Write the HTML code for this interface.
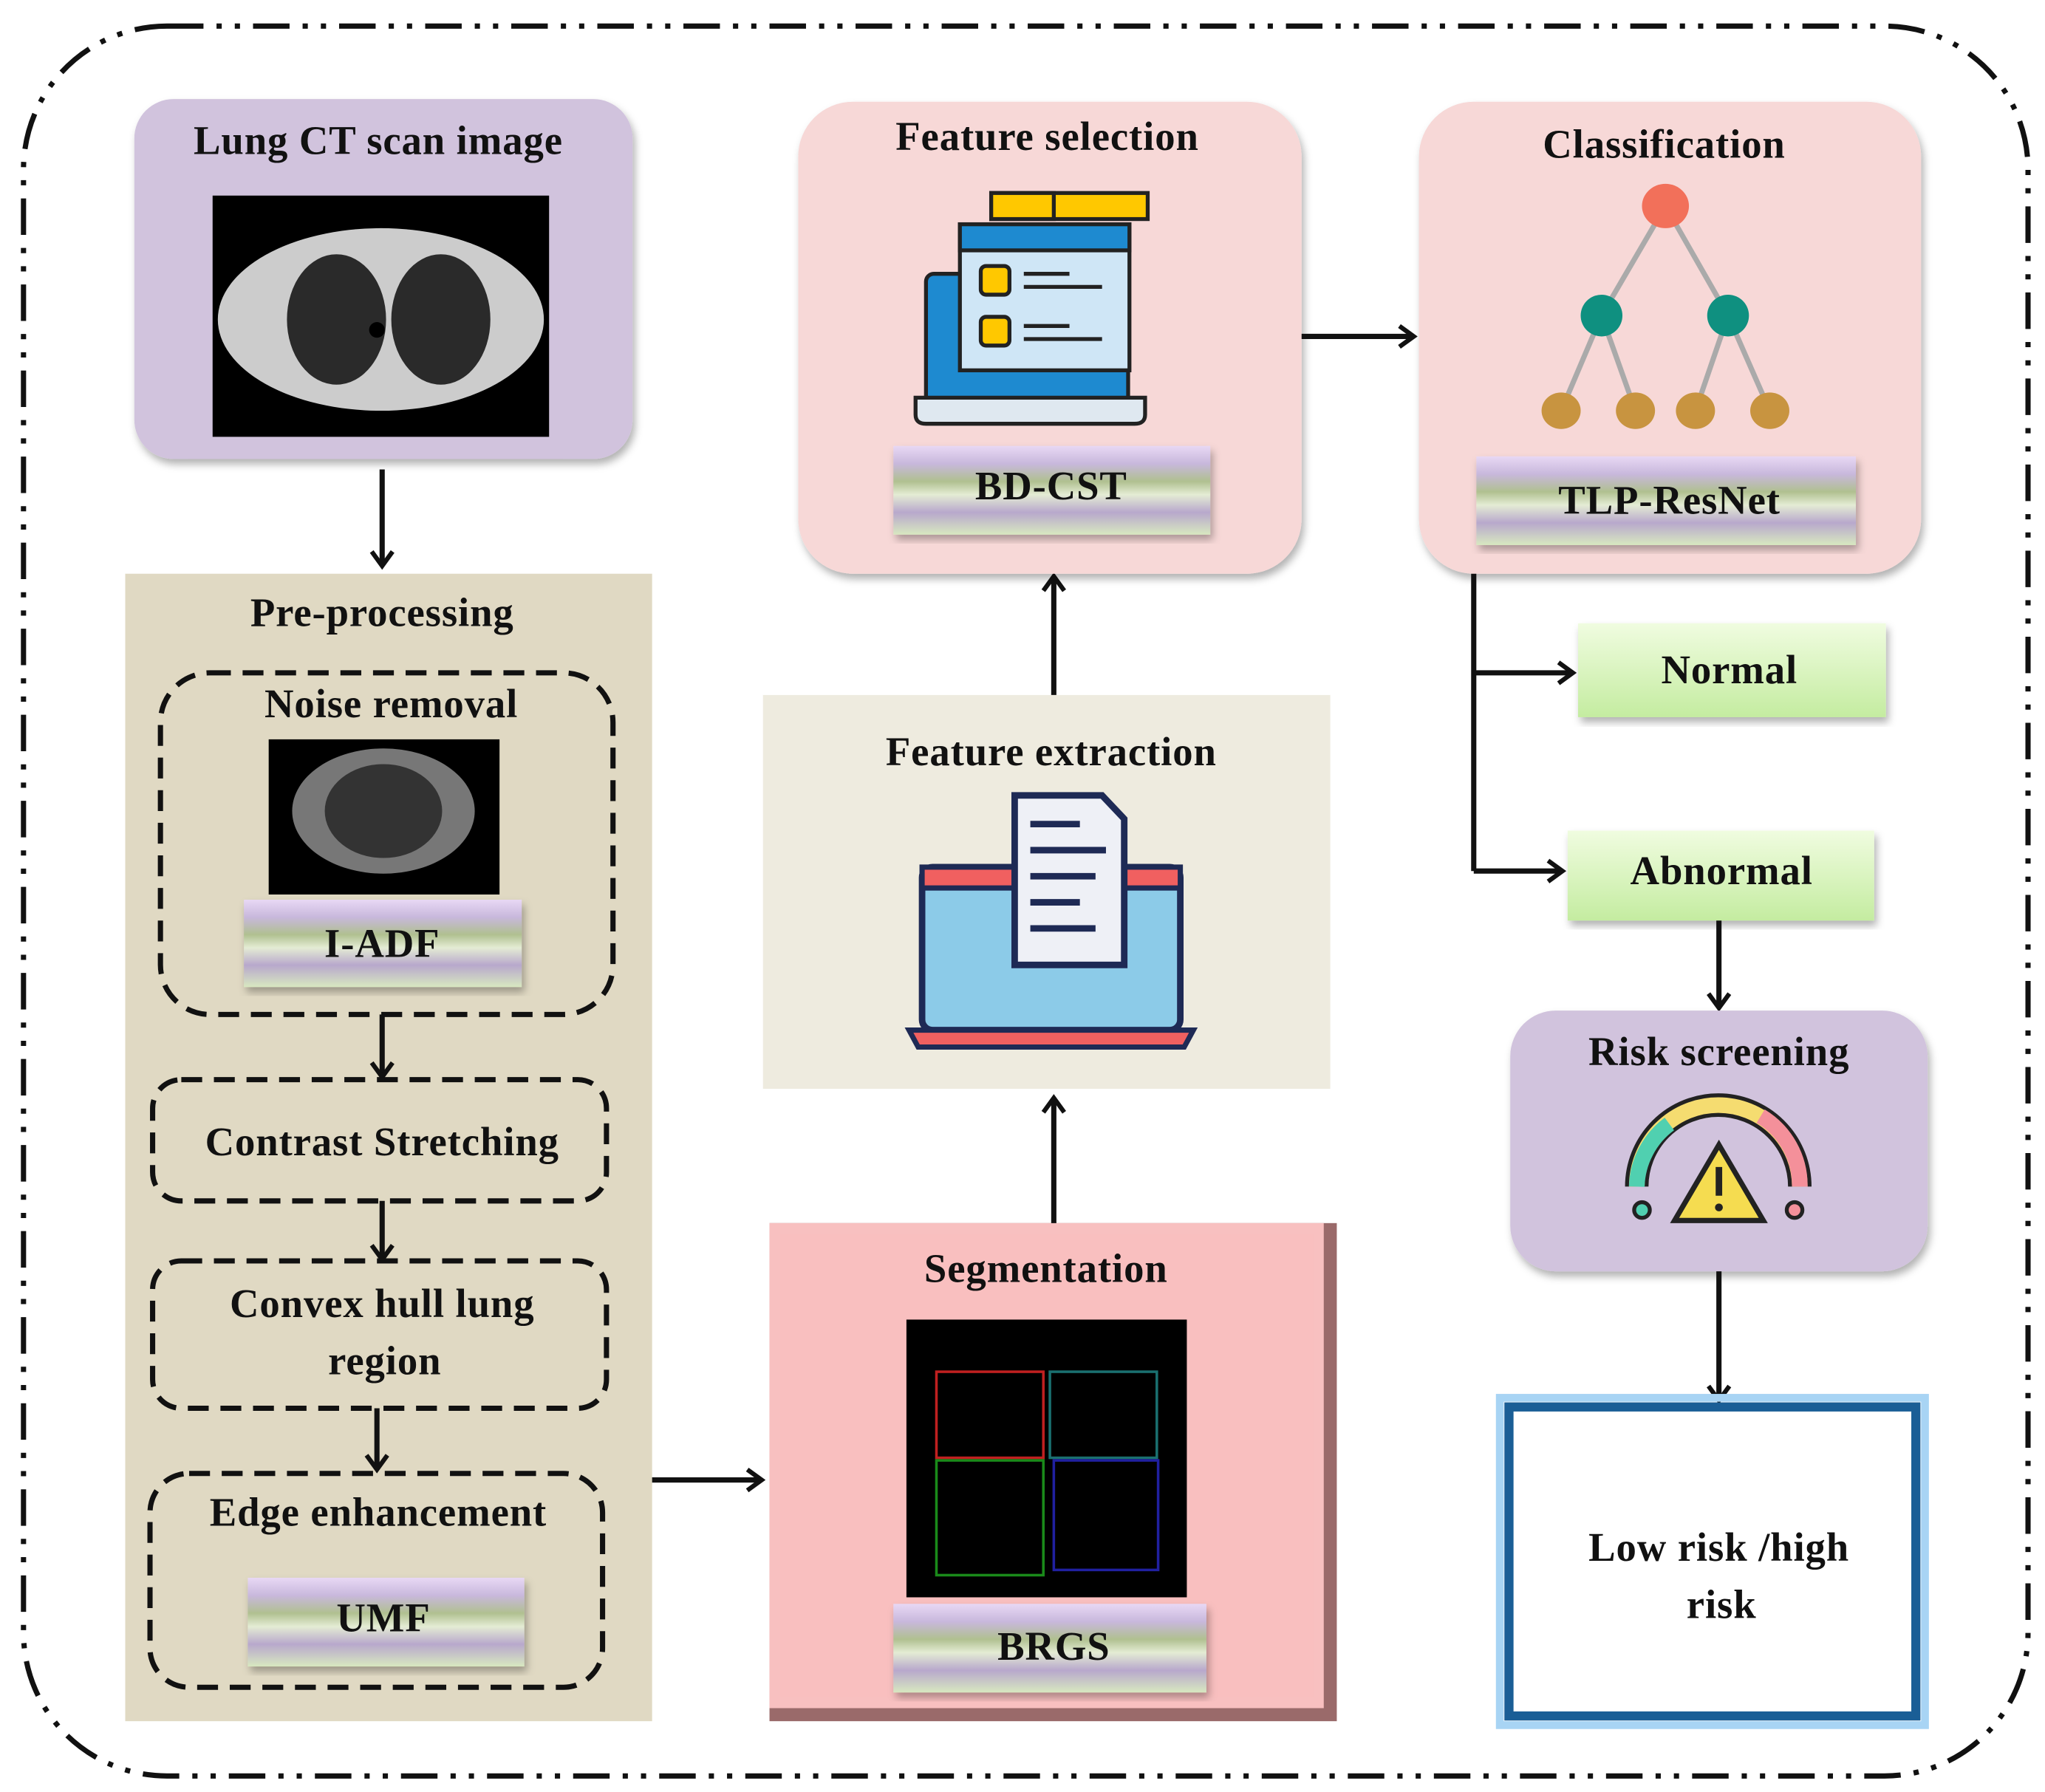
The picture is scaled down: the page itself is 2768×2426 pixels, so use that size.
<!DOCTYPE html>
<html><head><meta charset="utf-8"><style>
html,body{margin:0;padding:0;background:#fff}
svg{display:block}
text{font-family:"Liberation Serif",serif;font-weight:bold;fill:#111;letter-spacing:0.5px}
</style></head><body>
<svg width="2768" height="2426" viewBox="0 0 1568 1374.3" xmlns="http://www.w3.org/2000/svg">
<defs>
<linearGradient id="btn" x1="0" y1="0" x2="0" y2="1">
<stop offset="0" stop-color="#e8d8f4"/><stop offset="0.2" stop-color="#c8b8dc"/>
<stop offset="0.4" stop-color="#b0c090"/><stop offset="0.55" stop-color="#e4ecd4"/>
<stop offset="0.75" stop-color="#b8a8cc"/><stop offset="1" stop-color="#d8e8c0"/></linearGradient>
<linearGradient id="grn" x1="0" y1="0" x2="0" y2="1">
<stop offset="0" stop-color="#f0fce0"/><stop offset="1" stop-color="#c4eca0"/></linearGradient>
<marker id="ar" markerWidth="16" markerHeight="20" refX="13" refY="10" orient="auto" markerUnits="userSpaceOnUse" viewBox="0 0 16 20">
<path d="M2,2 L13,10 L2,18" fill="none" stroke="#111" stroke-width="3.5"/></marker>
<filter id="sh"><feDropShadow dx="2" dy="4" stdDeviation="3" flood-color="#000" flood-opacity="0.3"/></filter>
</defs>
<rect x="18" y="20" width="1537" height="1342" rx="110" fill="none" stroke="#111" stroke-width="4" stroke-dasharray="28 10 4 10 4 10"/>

<rect x="103" y="76" width="382" height="276" rx="30" fill="#d1c3dd" filter="url(#sh)"/>
<text x="290" y="118" font-size="31" text-anchor="middle">Lung CT scan image</text>
<rect x="163" y="150" width="258" height="185" fill="#000"/>
<ellipse cx="292" cy="245" rx="125" ry="70" fill="#ccc"/>
<ellipse cx="258" cy="245" rx="38" ry="50" fill="#2a2a2a"/>
<ellipse cx="338" cy="245" rx="38" ry="50" fill="#2a2a2a"/>
<circle cx="289" cy="253" r="6" fill="#000"/>
<line x1="293" y1="360" x2="293" y2="434" stroke="#111" stroke-width="4" marker-end="url(#ar)"/>

<rect x="96" y="440" width="404" height="880" fill="#e0d9c3"/>
<text x="293" y="480" font-size="31" text-anchor="middle">Pre-processing</text>
<rect x="123" y="516" width="347" height="262" rx="38" fill="none" stroke="#111" stroke-width="4" stroke-dasharray="16 9"/>
<text x="300" y="550" font-size="31" text-anchor="middle">Noise removal</text>
<rect x="206" y="567" width="177" height="119" fill="#000"/>
<ellipse cx="294" cy="622" rx="70" ry="48" fill="#777"/>
<ellipse cx="294" cy="622" rx="45" ry="36" fill="#333"/>
<rect x="187" y="690" width="213" height="67" fill="url(#btn)" filter="url(#sh)"/>
<text x="293" y="734" font-size="31" text-anchor="middle">I-ADF</text>
<line x1="293" y1="778" x2="293" y2="826" stroke="#111" stroke-width="4" marker-end="url(#ar)"/>
<rect x="117" y="828" width="348" height="93" rx="22" fill="none" stroke="#111" stroke-width="4" stroke-dasharray="16 9"/>
<text x="293" y="886" font-size="31" text-anchor="middle">Contrast Stretching</text>
<line x1="293" y1="921" x2="293" y2="966" stroke="#111" stroke-width="4" marker-end="url(#ar)"/>
<rect x="117" y="967" width="348" height="113" rx="22" fill="none" stroke="#111" stroke-width="4" stroke-dasharray="16 9"/>
<text x="293" y="1010" font-size="31" text-anchor="middle">Convex hull lung</text>
<text x="295" y="1054" font-size="31" text-anchor="middle">region</text>
<line x1="289" y1="1080" x2="289" y2="1127" stroke="#111" stroke-width="4" marker-end="url(#ar)"/>
<rect x="115" y="1130" width="347" height="164" rx="30" fill="none" stroke="#111" stroke-width="4" stroke-dasharray="16 9"/>
<text x="290" y="1170" font-size="31" text-anchor="middle">Edge enhancement</text>
<rect x="190" y="1210" width="212" height="68" fill="url(#btn)" filter="url(#sh)"/>
<text x="294" y="1251" font-size="31" text-anchor="middle">UMF</text>
<line x1="500" y1="1135" x2="584" y2="1135" stroke="#111" stroke-width="4" marker-end="url(#ar)"/>

<rect x="590" y="938" width="435" height="382" fill="#9a6a6a"/>
<rect x="590" y="938" width="425" height="372" fill="#f8c0c0"/>
<rect x="598" y="946" width="409" height="356" fill="#f9bfbf"/>
<text x="802" y="983" font-size="31" text-anchor="middle">Segmentation</text>
<rect x="695" y="1012" width="215" height="213" fill="#000"/>
<rect x="718" y="1052" width="82" height="66" fill="none" stroke="#c02020" stroke-width="2"/>
<rect x="805" y="1052" width="82" height="66" fill="none" stroke="#1a7070" stroke-width="2"/>
<rect x="718" y="1120" width="82" height="88" fill="none" stroke="#1a8a1a" stroke-width="2"/>
<rect x="808" y="1120" width="80" height="84" fill="none" stroke="#2020a0" stroke-width="2"/>
<rect x="685" y="1230" width="240" height="68" fill="url(#btn)" filter="url(#sh)"/>
<text x="808" y="1273" font-size="31" text-anchor="middle">BRGS</text>
<line x1="808" y1="938" x2="808" y2="842" stroke="#111" stroke-width="4" marker-end="url(#ar)"/>

<rect x="585" y="533" width="435" height="302" fill="#eeebdf"/>
<text x="806" y="587" font-size="31" text-anchor="middle">Feature extraction</text>
<rect x="707" y="665" width="198" height="125" rx="8" fill="#8ccbe8" stroke="#1e2a55" stroke-width="5"/>
<rect x="707" y="665" width="198" height="16" fill="#f06060" stroke="#1e2a55" stroke-width="4"/>
<path d="M697 790 H915 L908 803 H704 Z" fill="#f06060" stroke="#1e2a55" stroke-width="4"/>
<path d="M778 610 H845 L862 628 V740 H778 Z" fill="#eef0f6" stroke="#1e2a55" stroke-width="5"/>
<g stroke="#1e2a55" stroke-width="5"><line x1="790" y1="632" x2="828" y2="632"/><line x1="790" y1="652" x2="848" y2="652"/><line x1="790" y1="672" x2="840" y2="672"/><line x1="790" y1="692" x2="828" y2="692"/><line x1="790" y1="712" x2="840" y2="712"/></g>
<line x1="808" y1="533" x2="808" y2="442" stroke="#111" stroke-width="4" marker-end="url(#ar)"/>

<rect x="612" y="78" width="386" height="362" rx="42" fill="#f7d8d7" filter="url(#sh)"/>
<text x="803" y="115" font-size="31" text-anchor="middle">Feature selection</text>
<rect x="760" y="148" width="120" height="20" fill="#ffc800" stroke="#222" stroke-width="3"/>
<rect x="760" y="148" width="48" height="20" fill="#ffc800" stroke="#222" stroke-width="3"/>
<rect x="710" y="210" width="155" height="100" rx="6" fill="#1e8ad0" stroke="#222" stroke-width="3"/>
<path d="M702 305 H878 V318 Q878 325 870 325 H710 Q702 325 702 318 Z" fill="#dfe8f0" stroke="#222" stroke-width="3"/>
<rect x="736" y="172" width="130" height="112" fill="#cfe6f6" stroke="#222" stroke-width="3"/>
<rect x="736" y="172" width="130" height="20" fill="#1e8ad0" stroke="#222" stroke-width="3"/>
<rect x="752" y="204" width="22" height="22" rx="4" fill="#ffc800" stroke="#222" stroke-width="3"/>
<rect x="752" y="243" width="22" height="22" rx="4" fill="#ffc800" stroke="#222" stroke-width="3"/>
<g stroke="#222" stroke-width="3"><line x1="785" y1="210" x2="820" y2="210"/><line x1="785" y1="220" x2="845" y2="220"/><line x1="785" y1="250" x2="820" y2="250"/><line x1="785" y1="260" x2="845" y2="260"/></g>
<rect x="685" y="342" width="243" height="68" fill="url(#btn)" filter="url(#sh)"/>
<text x="806" y="383" font-size="31" text-anchor="middle">BD-CST</text>
<line x1="998" y1="258" x2="1084" y2="258" stroke="#111" stroke-width="4" marker-end="url(#ar)"/>

<rect x="1088" y="78" width="385" height="362" rx="42" fill="#f7d8d7" filter="url(#sh)"/>
<text x="1276" y="121" font-size="31" text-anchor="middle">Classification</text>
<g stroke="#aaa" stroke-width="4"><line x1="1277" y1="158" x2="1228" y2="242"/><line x1="1277" y1="158" x2="1325" y2="242"/>
<line x1="1228" y1="242" x2="1197" y2="315"/><line x1="1228" y1="242" x2="1254" y2="315"/><line x1="1325" y1="242" x2="1300" y2="315"/><line x1="1325" y1="242" x2="1357" y2="315"/></g>
<ellipse cx="1277" cy="158" rx="18" ry="17" fill="#f2705a"/>
<ellipse cx="1228" cy="242" rx="16" ry="16" fill="#0f9080"/>
<ellipse cx="1325" cy="242" rx="16" ry="16" fill="#0f9080"/>
<g fill="#c89440"><ellipse cx="1197" cy="315" rx="15" ry="14"/><ellipse cx="1254" cy="315" rx="15" ry="14"/><ellipse cx="1300" cy="315" rx="15" ry="14"/><ellipse cx="1357" cy="315" rx="15" ry="14"/></g>
<rect x="1132" y="350" width="291" height="68" fill="url(#btn)" filter="url(#sh)"/>
<text x="1280" y="394" font-size="31" text-anchor="middle">TLP-ResNet</text>

<polyline points="1130,440 1130,668" fill="none" stroke="#111" stroke-width="4"/>
<line x1="1130" y1="516" x2="1206" y2="516" stroke="#111" stroke-width="4" marker-end="url(#ar)"/>
<line x1="1130" y1="668" x2="1198" y2="668" stroke="#111" stroke-width="4" marker-end="url(#ar)"/>
<rect x="1210" y="478" width="236" height="72" fill="url(#grn)" filter="url(#sh)"/>
<text x="1326" y="524" font-size="31" text-anchor="middle">Normal</text>
<rect x="1202" y="637" width="235" height="69" fill="url(#grn)" filter="url(#sh)"/>
<text x="1320" y="678" font-size="31" text-anchor="middle">Abnormal</text>
<line x1="1318" y1="706" x2="1318" y2="773" stroke="#111" stroke-width="4" marker-end="url(#ar)"/>

<rect x="1158" y="775" width="320" height="200" rx="35" fill="#d1c3dd" filter="url(#sh)"/>
<text x="1318" y="817" font-size="31" text-anchor="middle">Risk screening</text>
<path d="M1255 910 A62 62 0 0 1 1380 910" fill="none" stroke="#222" stroke-width="18"/>
<path d="M1255 910 A62 62 0 0 1 1380 910" fill="none" stroke="#f5dc70" stroke-width="12"/>
<path d="M1255 910 A62 62 0 0 1 1280 862" fill="none" stroke="#50d0b0" stroke-width="12"/>
<path d="M1350 856 A62 62 0 0 1 1380 910" fill="none" stroke="#f4909a" stroke-width="12"/>
<path d="M1318 878 L1352 936 H1284 Z" fill="#f5dc50" stroke="#222" stroke-width="4"/>
<line x1="1318" y1="895" x2="1318" y2="917" stroke="#222" stroke-width="5"/>
<circle cx="1318" cy="926" r="3" fill="#222"/>
<circle cx="1259" cy="928" r="6" fill="#50d0b0" stroke="#222" stroke-width="3"/>
<circle cx="1376" cy="928" r="6" fill="#f4909a" stroke="#222" stroke-width="3"/>
<line x1="1318" y1="975" x2="1318" y2="1074" stroke="#111" stroke-width="4" marker-end="url(#ar)"/>

<rect x="1150" y="1072" width="326" height="251" fill="none" stroke="#a8d4f4" stroke-width="6"/>
<rect x="1157" y="1079" width="312" height="237" fill="#fff" stroke="#1a5e96" stroke-width="7"/>
<text x="1318" y="1197" font-size="31" text-anchor="middle">Low risk /high</text>
<text x="1320" y="1241" font-size="31" text-anchor="middle">risk</text>
</svg>
</body></html>
